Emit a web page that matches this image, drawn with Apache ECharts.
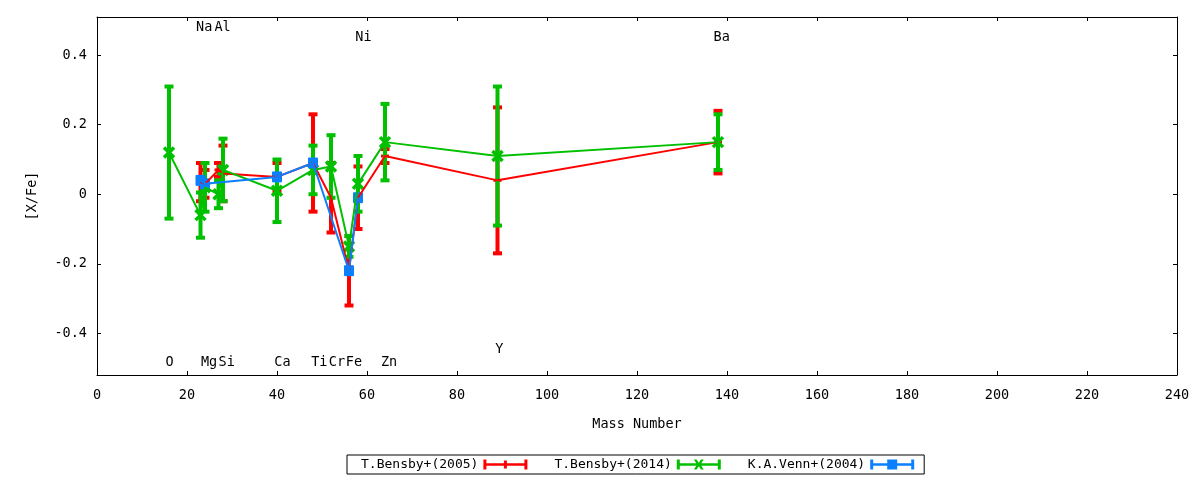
<!DOCTYPE html>
<html>
<head>
<meta charset="utf-8">
<script src="https://cdn.jsdelivr.net/npm/echarts@6/dist/echarts.min.js"></script>
<style>
    html, body { margin: 0; padding: 0; background: #fff; }
    #chart { width: 1200px; height: 480px; }
</style>
</head>
<body>
<div id="chart"></div>
<script>
// Bensby 2005
const redMass = [23, 24, 27, 28, 40, 48, 52, 56, 58, 64, 89, 138];
const redVal = [0.035, 0.03, 0.07, 0.06, 0.05, 0.09, -0.01, -0.22, -0.01, 0.11, 0.04, 0.15];
const redErr = [0.055, 0.04, 0.02, 0.08, 0.04, 0.14, 0.10, 0.10, 0.09, 0.02, 0.21, 0.09];

// Bensby 2014
const greenMass = [16, 23, 24, 27, 28, 40, 48, 52, 56, 58, 64, 89, 138];
const greenVal = [0.12, -0.06, 0.02, 0.0, 0.07, 0.01, 0.07, 0.08, -0.15, 0.03, 0.15, 0.11, 0.15];
const greenErr = [0.19, 0.065, 0.07, 0.04, 0.09, 0.09, 0.07, 0.09, 0.03, 0.08, 0.11, 0.20, 0.08];

// Venn 2004
const blueMass = [23, 24, 40, 48, 56, 58];
const blueVal = [0.04, 0.03, 0.05, 0.09, -0.22, -0.01];
const blueErr = [0.01, 0.01, 0.01, 0.01, 0.01, 0.01];

// element labels
const labelNames = ['Na', 'Al', 'Ni', 'Ba', 'O', 'Mg', 'Si', 'Ca', 'Ti', 'Cr', 'Fe', 'Zn', 'Y'];
const labelX = [22.0, 26.1, 57.4, 137.0, 15.2, 23.1, 27.0, 39.4, 47.6, 51.5, 55.3, 63.1, 88.5];
const labelY = [0.481, 0.481, 0.452, 0.452, -0.485, -0.485, -0.485, -0.485, -0.485, -0.485, -0.485, -0.485, -0.447];

const yTicks = [-0.4, -0.2, 0, 0.2, 0.4];
const seriesNames = ['T.Bensby+(2005)', 'T.Bensby+(2014)', 'K.A.Venn+(2004)'];

const RED = '#ff0000', GREEN = '#00c000', BLUE = '#0a80ff';
const FONT = '"DejaVu Sans Mono", monospace';

let capsPath = 'M0,0h3v10h-3z M41,0h3v10h-3z M0,3.8h44v2.4h-44z ';
let icons = [
    'path://' + capsPath + 'M20.5,1h3v8h-3z',
    'path://' + capsPath + 'M17,0L19.8,0L22,3.2L24.2,0L27,0L23.6,5L27,10L24.2,10L22,6.8L19.8,10L17,10L20.4,5Z',
    'path://' + capsPath + 'M17,0h10v10h-10z'
];

function zip(xs, ys, es)
{
    return xs.map((x, i) => es ? [x, ys[i], es[i]] : [x, ys[i]]);
}

function errRender(marker, color)
{
    return function (params, api)
    {
        let x = api.value(0), y = api.value(1), e = api.value(2);
        let c = api.coord([x, y]);
        let t = api.coord([x, y + e]);
        let b = api.coord([x, y - e]);
        let st = {stroke: color, lineWidth: 4};
        let kids = [
            {type: 'line', shape: {x1: c[0], y1: t[1], x2: c[0], y2: b[1]}, style: st},
            {type: 'line', shape: {x1: c[0] - 4.5, y1: t[1], x2: c[0] + 4.5, y2: t[1]}, style: st},
            {type: 'line', shape: {x1: c[0] - 4.5, y1: b[1], x2: c[0] + 4.5, y2: b[1]}, style: st}
        ];
        if (marker === 'plus')
        {
            kids.push({type: 'line', shape: {x1: c[0] - 4, y1: c[1], x2: c[0] + 4, y2: c[1]}, style: {stroke: color, lineWidth: 3}});
        }
        else if (marker === 'cross')
        {
            let w = {stroke: color, lineWidth: 3.5};
            kids.push({type: 'line', shape: {x1: c[0] - 5, y1: c[1] - 5, x2: c[0] + 5, y2: c[1] + 5}, style: w});
            kids.push({type: 'line', shape: {x1: c[0] - 5, y1: c[1] + 5, x2: c[0] + 5, y2: c[1] - 5}, style: w});
        }
        else
        {
            kids.push({type: 'rect', shape: {x: c[0] - 5, y: c[1] - 5, width: 10, height: 10}, style: {fill: color}});
        }
        return {type: 'group', children: kids};
    };
}

function lineSeries(name, data, color)
{
    return {
        name: name,
        type: 'line',
        data: data,
        symbol: 'none',
        color: color,
        lineStyle: {color: color, width: 2},
        silent: true
    };
}

function errSeries(name, data, marker, color)
{
    return {
        name: name,
        type: 'custom',
        data: data,
        color: color,
        renderItem: errRender(marker, color),
        silent: true
    };
}

let myChart = echarts.init(document.getElementById('chart'));

let axisCommon = {
    type: 'value',
    axisLine: {show: true, onZero: false, lineStyle: {color: '#000', width: 1}},
    axisTick: {show: true, inside: true, length: 4, lineStyle: {color: '#000'}},
    splitLine: {show: false}
};

let option = {
    animation: false,
    textStyle: {fontFamily: FONT},
    grid: {left: 97, right: 23, top: 17, bottom: 105},
    legend: {
        left: 347,
        top: 455,
        align: 'right',
        itemWidth: 44,
        itemHeight: 10,
        itemGap: 27,
        padding: [3, 10, 3, 14],
        borderColor: '#000',
        borderWidth: 1,
        borderRadius: 0,
        selectedMode: false,
        textStyle: {fontFamily: FONT, fontSize: 13, color: '#000'},
        data: seriesNames.map((n, i) => ({
            name: n,
            icon: icons[i],
            itemStyle: {color: [RED, GREEN, BLUE][i], borderWidth: 0}
        }))
    },
    xAxis: [
        Object.assign({}, axisCommon, {
            min: 0, max: 240, interval: 20,
            position: 'bottom',
            name: 'Mass Number',
            nameLocation: 'middle',
            nameGap: 42,
            nameTextStyle: {fontFamily: FONT, fontSize: 13.5, color: '#000'},
            axisLabel: {margin: 13, fontFamily: FONT, fontSize: 13.5, color: '#000'}
        }),
        Object.assign({}, axisCommon, {
            min: 0, max: 240, interval: 20,
            position: 'top',
            axisLabel: {show: false}
        })
    ],
    yAxis: [
        Object.assign({}, axisCommon, {
            min: -0.52, max: 0.51,
            position: 'left',
            name: '[X/Fe]',
            nameLocation: 'middle',
            nameRotate: 90,
            nameGap: 58,
            nameTextStyle: {fontFamily: FONT, fontSize: 13.5, color: '#000'},
            axisTick: {show: true, inside: true, length: 4, lineStyle: {color: '#000'}, customValues: yTicks},
            axisLabel: {margin: 10, fontFamily: FONT, fontSize: 13.5, color: '#000', customValues: yTicks}
        }),
        Object.assign({}, axisCommon, {
            min: -0.52, max: 0.51,
            position: 'right',
            axisTick: {show: true, inside: true, length: 4, lineStyle: {color: '#000'}, customValues: yTicks},
            axisLabel: {show: false}
        })
    ],
    series: [
        lineSeries(seriesNames[0], zip(redMass, redVal), RED),
        errSeries(seriesNames[0], zip(redMass, redVal, redErr), 'plus', RED),
        lineSeries(seriesNames[1], zip(greenMass, greenVal), GREEN),
        errSeries(seriesNames[1], zip(greenMass, greenVal, greenErr), 'cross', GREEN),
        lineSeries(seriesNames[2], zip(blueMass, blueVal), BLUE),
        errSeries(seriesNames[2], zip(blueMass, blueVal, blueErr), 'square', BLUE),
        {
            name: 'labels',
            type: 'custom',
            silent: true,
            data: zip(labelX, labelY),
            renderItem: function (params, api)
            {
                let c = api.coord([api.value(0), api.value(1)]);
                return {
                    type: 'text',
                    x: c[0],
                    y: c[1],
                    style: {
                        text: labelNames[params.dataIndex],
                        fill: '#000',
                        font: '13.5px ' + FONT,
                        align: 'left',
                        verticalAlign: 'middle'
                    }
                };
            }
        }
    ]
};

myChart.setOption(option);
</script>
</body>
</html>
